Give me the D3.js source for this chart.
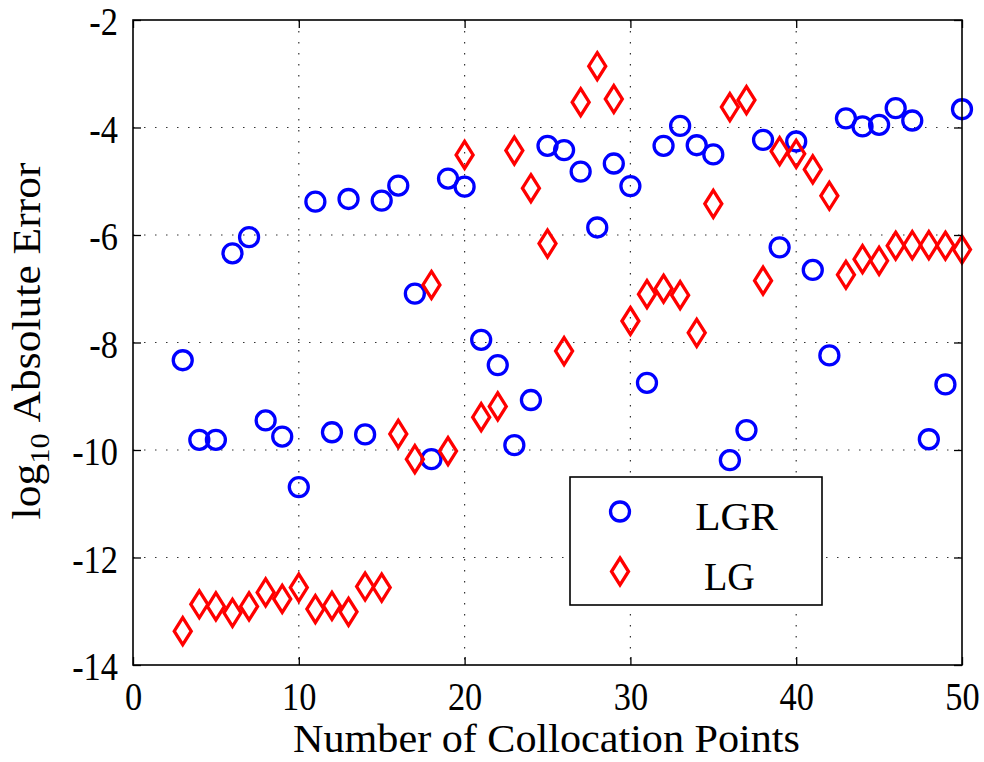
<!DOCTYPE html>
<html>
<head>
<meta charset="utf-8">
<script src="https://cdn.jsdelivr.net/npm/d3@7"></script>
<style>
  html, body { margin: 0; padding: 0; background: #fff; }
  svg { display: block; }
</style>
</head>
<body>
<div id="chart"></div>
<script>
// collocation points and log10 errors for each method
const nPoints = [3, 4, 5, 6, 7, 8, 9, 10, 11, 12, 13, 14, 15, 16, 17, 18, 19, 20, 21, 22, 23, 24, 25, 26,
  27, 28, 29, 30, 31, 32, 33, 34, 35, 36, 37, 38, 39, 40, 41, 42, 43, 44, 45, 46, 47, 48, 49, 50];
const lgrError = [-8.33, -9.81, -9.81, -6.34, -6.04, -9.45, -9.75, -10.69, -5.38, -9.67, -5.33, -9.71,
  -5.36, -5.08, -7.09, -10.17, -4.95, -5.10, -7.95, -8.42, -9.91, -9.07, -4.34, -4.42,
  -4.82, -5.86, -4.67, -5.09, -8.75, -4.34, -3.97, -4.33, -4.50, -10.19, -9.63, -4.23,
  -6.23, -4.26, -6.65, -8.24, -3.83, -3.98, -3.95, -3.64, -3.87, -9.80, -8.78, -3.66];
const lgError = [-13.37, -12.87, -12.91, -13.03, -12.91, -12.65, -12.77, -12.56, -12.96, -12.90, -13.01, -12.54,
  -12.56, -9.70, -10.17, -6.93, -10.02, -4.51, -9.39, -9.19, -4.43, -5.13, -6.16, -8.16,
  -3.53, -2.86, -3.47, -7.60, -7.10, -7.00, -7.12, -7.82, -5.42, -3.62, -3.49, -6.85,
  -4.44, -4.49, -4.78, -5.27, -6.74, -6.45, -6.48, -6.20, -6.19, -6.19, -6.20, -6.27];
const xTicks = [0, 10, 20, 30, 40, 50];
const yTicks = [-14, -12, -10, -8, -6, -4, -2];
const seriesNames = ['LGR', 'LG'];

const width = 984;
const height = 762;
const margin = { top: 20, right: 22, bottom: 97, left: 133 };
const font = '"Liberation Serif", "DejaVu Serif", serif';
const squeeze = 0.86; // tick digits look narrow and tall

const svg = d3.select('#chart')
  .append('svg')
  .attr('width', width)
  .attr('height', height)
  .style('font-family', font);

const x = d3.scaleLinear().domain([0, 50]).range([margin.left, width - margin.right]);
const y = d3.scaleLinear().domain([-14, -2]).range([height - margin.bottom, margin.top]);

// dotted grid
const grid = svg.append('g').attr('stroke', '#333').attr('stroke-width', 1.2)
  .attr('stroke-dasharray', '1.5,9.5');
grid.selectAll('.gx').data(xTicks.slice(1, -1)).join('line')
  .attr('x1', d => x(d)).attr('x2', d => x(d))
  .attr('y1', y(-2)).attr('y2', y(-14));
grid.selectAll('.gy').data(yTicks.slice(1, -1)).join('line')
  .attr('x1', x(0)).attr('x2', x(50))
  .attr('y1', d => y(d)).attr('y2', d => y(d));

// markers
const diamond = (w, h) => `M0,${-h}L${w},0L0,${h}L${-w},0Z`;

svg.append('g').selectAll('circle')
  .data(nPoints.map((n, i) => [n, lgrError[i]]))
  .join('circle')
  .attr('cx', d => x(d[0]))
  .attr('cy', d => y(d[1]))
  .attr('r', 9.5)
  .attr('fill', 'none')
  .attr('stroke', '#0000ff')
  .attr('stroke-width', 3.3);

svg.append('g').selectAll('path')
  .data(nPoints.map((n, i) => [n, lgError[i]]))
  .join('path')
  .attr('d', diamond(8.5, 13.5))
  .attr('transform', d => `translate(${x(d[0])},${y(d[1])})`)
  .attr('fill', 'none')
  .attr('stroke', '#ff0000')
  .attr('stroke-width', 3.3);

// axes, ticks pointing inward on all four sides
function styleAxis(g) {
  g.select('.domain').remove();
  g.selectAll('.tick line').attr('stroke', '#000').attr('stroke-width', 1.3);
}

svg.append('g')
  .attr('transform', `translate(0,${y(-14)})`)
  .call(d3.axisBottom(x).tickValues(xTicks).tickSize(-8).tickFormat(d3.format('d')))
  .call(styleAxis)
  .call(g => g.selectAll('.tick text')
    .attr('y', 45).attr('dy', 0)
    .attr('transform', `scale(${squeeze},1)`)
    .attr('fill', '#000')
    .style('font-size', '40px')
    .style('font-family', font));

svg.append('g')
  .attr('transform', `translate(${x(0)},0)`)
  .call(d3.axisLeft(y).tickValues(yTicks).tickSize(-8).tickFormat(d => String(d).replace('\u2212', '-')))
  .call(styleAxis)
  .call(g => g.selectAll('.tick text')
    .attr('x', -15 / squeeze).attr('dy', 0).attr('y', 14.5)
    .attr('transform', `scale(${squeeze},1)`)
    .attr('fill', '#000')
    .style('font-size', '40px')
    .style('font-family', font));

svg.append('g')
  .attr('transform', `translate(0,${y(-2)})`)
  .call(d3.axisTop(x).tickValues(xTicks).tickSize(-8).tickFormat(''))
  .call(styleAxis);

svg.append('g')
  .attr('transform', `translate(${x(50)},0)`)
  .call(d3.axisRight(y).tickValues(yTicks).tickSize(-8).tickFormat(''))
  .call(styleAxis);

// frame
svg.append('rect')
  .attr('x', x(0)).attr('y', y(-2))
  .attr('width', x(50) - x(0)).attr('height', y(-14) - y(-2))
  .attr('fill', 'none').attr('stroke', '#000').attr('stroke-width', 1.6);

// stretch a label horizontally so it covers a given width
function fitWidth(text, target, tx, ty, rot) {
  const w = text.node().getBBox().width;
  text.attr('transform', `translate(${tx},${ty})${rot ? ` rotate(${rot})` : ''} scale(${target / w},1)`);
}

const xLabel = svg.append('text')
  .attr('text-anchor', 'middle')
  .style('font-size', '40px')
  .text('Number of Collocation Points');
fitWidth(xLabel, 507, 546.5, 752);

const yLabel = svg.append('text')
  .attr('text-anchor', 'middle')
  .style('font-size', '40px');
yLabel.append('tspan').text('log');
yLabel.append('tspan').attr('dy', 9).style('font-size', '28px').text('10');
yLabel.append('tspan').attr('dy', -9).text('\u00a0Absolute Error');
fitWidth(yLabel, 357, 40, 341, -90);

// legend
const legend = svg.append('g');
legend.append('rect')
  .attr('x', 570).attr('y', 477)
  .attr('width', 252).attr('height', 128)
  .attr('fill', '#fff').attr('stroke', '#000').attr('stroke-width', 1.6);

const legendRows = [
  { name: seriesNames[0], cy: 511.5, tx: 736.5, tw: 83 },
  { name: seriesNames[1], cy: 571.5, tx: 729.5, tw: 51 }
];
legend.append('circle')
  .attr('cx', 620).attr('cy', legendRows[0].cy).attr('r', 9.5)
  .attr('fill', 'none').attr('stroke', '#0000ff').attr('stroke-width', 3.3);
legend.append('path')
  .attr('d', diamond(8.5, 13.5))
  .attr('transform', `translate(620,${legendRows[1].cy})`)
  .attr('fill', 'none').attr('stroke', '#ff0000').attr('stroke-width', 3.3);

legendRows.forEach(r => {
  const t = legend.append('text')
    .attr('text-anchor', 'middle')
    .style('font-size', '40px')
    .text(r.name);
  fitWidth(t, r.tw, r.tx, r.cy + 18.5);
});
</script>
</body>
</html>
